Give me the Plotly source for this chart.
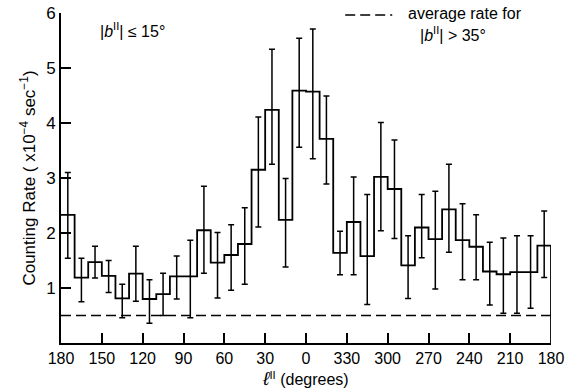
import plotly.graph_objects as go

# Galactic longitude bins, 10 degrees wide, running 180 -> 0 -> 180
bin_width = 10
rate = [2.33, 1.19, 1.47, 1.22, 0.81, 1.26, 0.80, 0.89, 1.21, 1.21, 2.05, 1.46,
        1.60, 1.80, 3.15, 4.24, 2.24, 4.59, 4.57, 3.71, 1.64, 2.20, 1.58, 3.02,
        2.80, 1.41, 2.10, 1.89, 2.43, 1.87, 1.75, 1.30, 1.25, 1.29, 1.29, 1.77]
err_up = [0.77, 0.35, 0.29, 0.28, 0.26, 0.50, 0.35, 0.38, 0.37, 0.66, 0.80, 0.55,
          0.55, 0.66, 0.96, 1.10, 0.75, 0.95, 1.14, 0.78, 0.39, 0.82, 1.12, 0.99,
          0.89, 0.54, 0.60, 0.87, 0.82, 0.66, 0.58, 0.53, 0.66, 0.66, 0.66, 0.63]
err_down = [0.79, 0.44, 0.29, 0.30, 0.35, 0.50, 0.44, 0.39, 0.41, 0.75, 0.78, 0.64,
            0.64, 0.73, 1.04, 0.99, 0.86, 1.03, 1.22, 0.82, 0.40, 0.96, 0.88, 0.98,
            0.90, 0.60, 0.55, 0.91, 0.78, 0.72, 0.60, 0.61, 0.71, 0.75, 0.66, 0.58]
avg_rate_high_lat = 0.5

tick_pos = [0, 30, 60, 90, 120, 150, 180, 210, 240, 270, 300, 330, 360]
tick_text = ["180", "150", "120", "90", "60", "30", "0",
             "330", "300", "270", "240", "210", "180"]

n = len(rate)
edges = [i * bin_width for i in range(n + 1)]
centers = [(i + 0.5) * bin_width for i in range(n)]

FONT = "Liberation Sans"
fig = go.Figure()

# histogram outline (right edge drops to the axis)
fig.add_trace(go.Scatter(
    x=edges + [edges[-1]], y=rate + [rate[-1], 0],
    mode="lines", line=dict(shape="hv", color="black", width=1.8),
    hoverinfo="skip", showlegend=False))

# error bars at bin centres
fig.add_trace(go.Scatter(
    x=centers, y=rate, mode="markers",
    marker=dict(size=1, color="rgba(0,0,0,0)"),
    error_y=dict(type="data", symmetric=False, array=err_up, arrayminus=err_down,
                 color="black", thickness=1.5, width=3),
    showlegend=False))

# average rate for |b| > 35 deg
fig.add_trace(go.Scatter(
    x=[edges[0], edges[-1]], y=[avg_rate_high_lat, avg_rate_high_lat],
    mode="lines", line=dict(color="black", width=1.5, dash="10px,5px"),
    showlegend=False))

fig.add_shape(type="line", xref="paper", yref="paper",
              x0=0.580, x1=0.676, y0=0.994, y1=0.994,
              line=dict(color="black", width=1.5, dash="10px,5px"))

fig.add_annotation(xref="paper", yref="paper", x=0.704, y=1.0,
                   xanchor="left", yanchor="middle", showarrow=False,
                   text="average rate for", font=dict(family=FONT, size=16, color="black"))
fig.add_annotation(xref="paper", yref="paper", x=0.729, y=0.935,
                   xanchor="left", yanchor="middle", showarrow=False,
                   text="|<i>b</i><sup>II</sup>| > 35°",
                   font=dict(family=FONT, size=16, color="black"))
fig.add_annotation(xref="paper", yref="paper", x=0.0755, y=0.95,
                   xanchor="left", yanchor="middle", showarrow=False,
                   text="|<i>b</i><sup>II</sup>| ≤ 15°",
                   font=dict(family=FONT, size=16, color="black"))

fig.update_layout(
    width=569, height=391,
    margin=dict(l=61, r=18, t=13, b=48),
    paper_bgcolor="white", plot_bgcolor="white",
    font=dict(family=FONT, size=16, color="black"),
    showlegend=False,
    xaxis=dict(range=[0, 360], tickvals=tick_pos, ticktext=tick_text,
               ticks="inside", ticklen=10, tickwidth=1.5, tickcolor="black",
               showline=True, linecolor="black", linewidth=2, automargin=False,
               showgrid=False, zeroline=False, tickfont=dict(size=16),
               title=dict(text="<i><span style='font-size:19px'>ℓ</span></i><sup>II</sup> (degrees)",
                          standoff=8, font=dict(size=16))),
    yaxis=dict(range=[0, 6], tickvals=[1, 2, 3, 4, 5, 6],
               ticks="inside", ticklen=10, tickwidth=1.5, tickcolor="black",
               showline=True, linecolor="black", linewidth=2, automargin=False,
               showgrid=False, zeroline=False, tickfont=dict(size=17),
               title=dict(text="Counting Rate ( x10<sup>−4</sup> sec<sup>−1</sup>)",
                          standoff=6, font=dict(size=17))),
)

fig.write_html("out.html")
